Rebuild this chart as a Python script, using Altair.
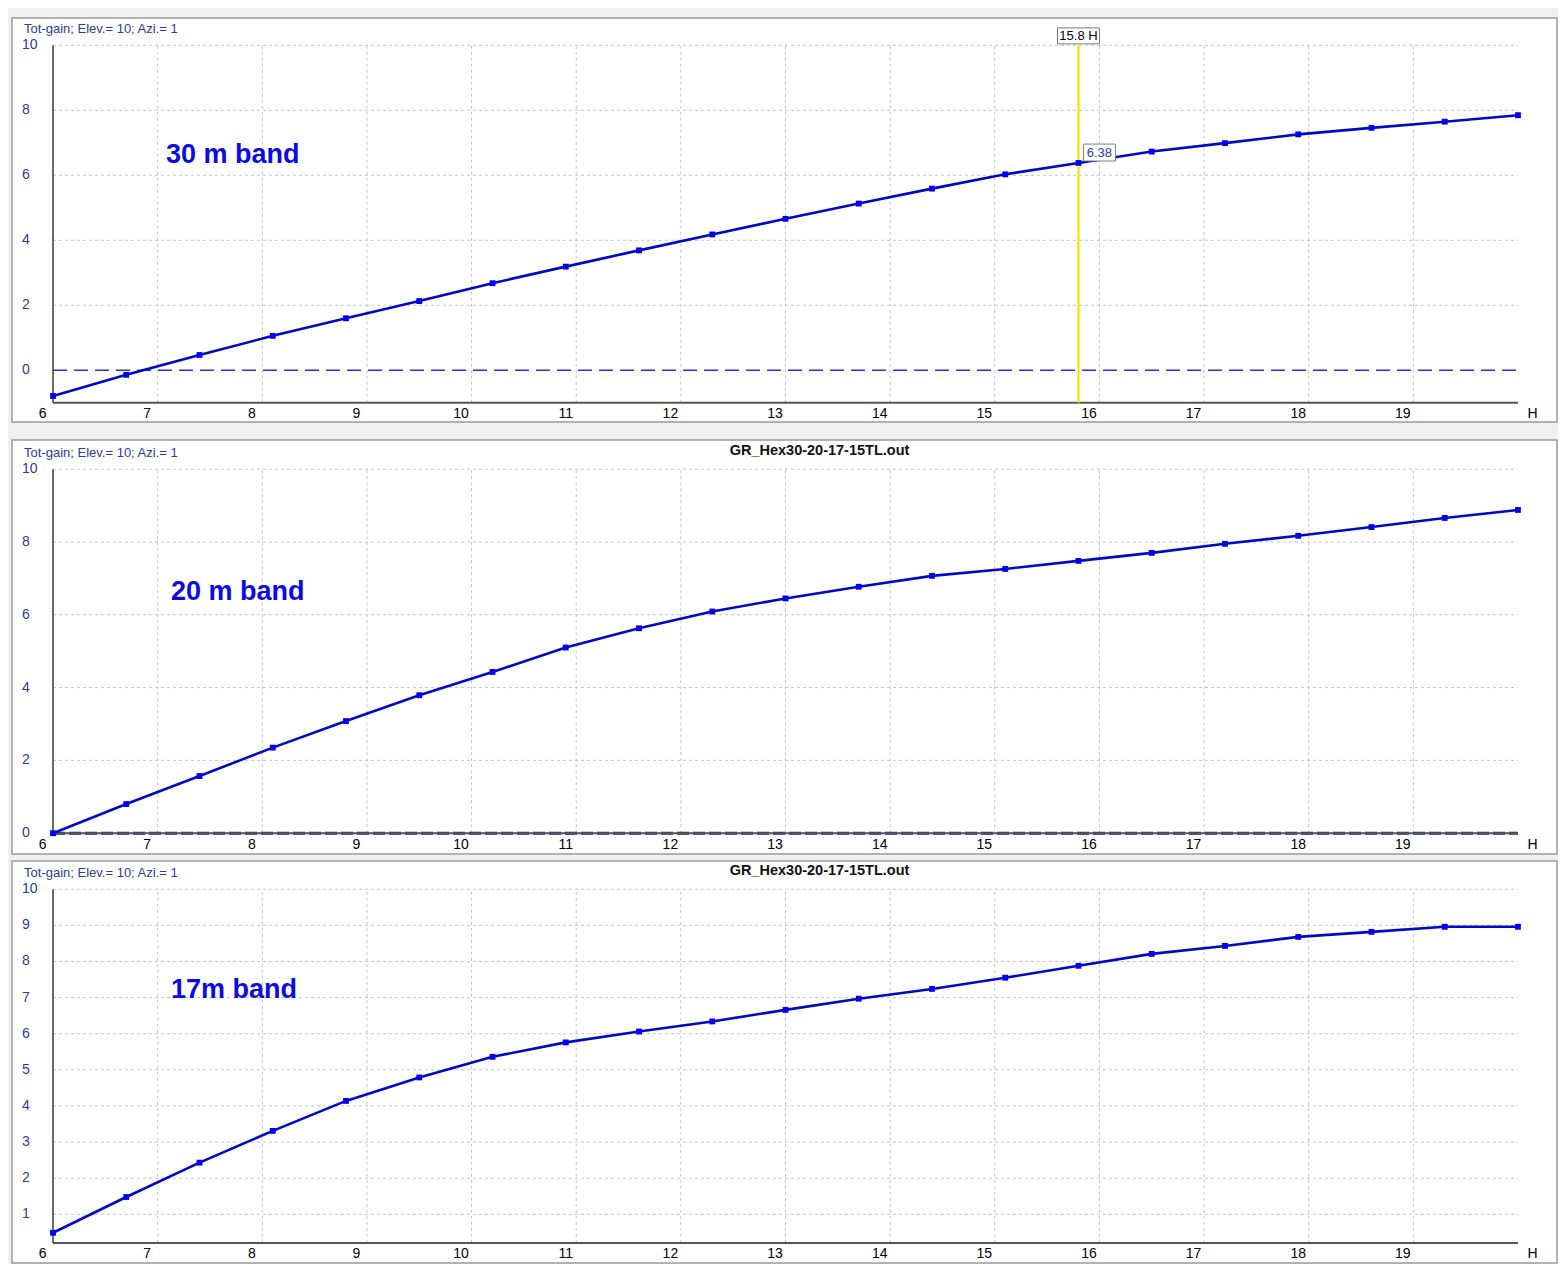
import altair as alt
import pandas as pd

# ---------------- data ----------------
heights = [6.1, 6.8, 7.5, 8.2, 8.9, 9.6, 10.3, 11.0, 11.7, 12.4, 13.1,
           13.8, 14.5, 15.2, 15.9, 16.6, 17.3, 18.0, 18.7, 19.4, 20.1]
gain_30m = [-0.79, -0.14, 0.47, 1.06, 1.60, 2.13, 2.68, 3.19, 3.69, 4.18, 4.66,
            5.13, 5.59, 6.03, 6.38, 6.73, 6.99, 7.26, 7.46, 7.65, 7.85]
gain_20m = [0.00, 0.80, 1.57, 2.35, 3.08, 3.79, 4.43, 5.10, 5.63, 6.09, 6.45,
            6.77, 7.07, 7.26, 7.48, 7.70, 7.95, 8.17, 8.41, 8.66, 8.88]
gain_17m = [0.49, 1.48, 2.43, 3.31, 4.14, 4.79, 5.36, 5.76, 6.06, 6.34, 6.66,
            6.97, 7.24, 7.55, 7.88, 8.21, 8.43, 8.68, 8.82, 8.96, 8.96]

x_labels = [6, 7, 8, 9, 10, 11, 12, 13, 14, 15, 16, 17, 18, 19]
x_grid = [7.1, 8.1, 9.1, 10.1, 11.1, 12.1, 13.1, 14.1, 15.1, 16.1, 17.1, 18.1, 19.1]
yticks_30 = [0, 2, 4, 6, 8, 10]
ygrid_30 = [2, 4, 6, 8, 10]
yticks_20 = [0, 2, 4, 6, 8, 10]
ygrid_20 = [2, 4, 6, 8, 10]
yticks_17 = [1, 2, 3, 4, 5, 6, 7, 8, 9, 10]
ygrid_17 = [1, 2, 3, 4, 5, 6, 7, 8, 9, 10]

panel_title = "Tot-gain; Elev.= 10; Azi.= 1"
file_title = "GR_Hex30-20-17-15TL.out"
band_names = ["30 m band", "20 m band", "17m band"]
cursor_h = 15.9
cursor_text = "15.8 H"
cursor_gain = 6.38
cursor_gain_text = "6.38"

# ---------------- layout constants ----------------
X_START, X_END = 6.1, 20.1
X_DOMAIN = [5.708, 20.473]
WIDTH = 1545
FONT = "Liberation Sans"
BLUE_TXT = "#2a3c9c"

x_scale = alt.Scale(domain=X_DOMAIN, nice=False, zero=False)


def X(f="x"):
    return alt.X(f"{f}:Q", scale=x_scale, axis=None)


def panel(gain, band, yticks, ygrid, axis_min, y_domain, height, band_xy,
          show_file, zero_style, cursor):
    ys = alt.Scale(domain=y_domain, nice=False, zero=False)

    def Y(f="y"):
        return alt.Y(f"{f}:Q", scale=ys, axis=None)

    layers = []
    # vertical grid
    vg = pd.DataFrame({"x": x_grid, "y": [axis_min] * len(x_grid), "y2": [10] * len(x_grid)})
    layers.append(alt.Chart(vg).mark_rule(color="#c4c4c4", strokeDash=[3, 3], strokeWidth=1)
                  .encode(x=X(), y=Y(), y2="y2:Q"))
    # horizontal grid
    hg = pd.DataFrame({"y": ygrid, "x": [X_START] * len(ygrid), "x2": [X_END] * len(ygrid)})
    layers.append(alt.Chart(hg).mark_rule(color="#c4c4c4", strokeDash=[3, 3], strokeWidth=1)
                  .encode(y=Y(), x=X(), x2="x2:Q"))
    # zero line
    if zero_style is not None:
        zl = pd.DataFrame({"y": [0], "x": [X_START], "x2": [X_END]})
        layers.append(alt.Chart(zl).mark_rule(**zero_style).encode(y=Y(), x=X(), x2="x2:Q"))
    # axis lines
    ya = pd.DataFrame({"x": [X_START], "y": [axis_min], "y2": [10]})
    layers.append(alt.Chart(ya).mark_rule(color="#3a3a3a", strokeWidth=1.5)
                  .encode(x=X(), y=Y(), y2="y2:Q"))
    xa = pd.DataFrame({"y": [axis_min], "x": [X_START], "x2": [X_END]})
    layers.append(alt.Chart(xa).mark_rule(color="#555555", strokeWidth=2)
                  .encode(y=Y(), x=X(), x2="x2:Q"))
    # cursor
    if cursor:
        cl = pd.DataFrame({"x": [cursor_h], "y": [axis_min], "y2": [10]})
        layers.append(alt.Chart(cl).mark_rule(color="#f2e600", strokeWidth=2.2)
                      .encode(x=X(), y=Y(), y2="y2:Q"))
    # data line
    df = pd.DataFrame({"x": heights, "y": gain})
    layers.append(alt.Chart(df).mark_line(color="#0008c8", strokeWidth=2.6)
                  .encode(x=X(), y=Y()))
    layers.append(alt.Chart(df).mark_point(shape="square", filled=True, size=34,
                                            color="#0000f0", opacity=1)
                  .encode(x=X(), y=Y()))
    if cursor:
        b1 = pd.DataFrame({"x": [cursor_h], "y": [10.29], "t": [cursor_text]})
        layers.append(alt.Chart(b1).mark_point(shape="M-1,-0.38H1V0.38H-1Z", size=1764,
                                                filled=True, fill="white", stroke="#7a7a7a",
                                                strokeWidth=1, opacity=1)
                      .encode(x=X(), y=Y()))
        layers.append(alt.Chart(b1).mark_text(font=FONT, fontSize=13, color="#000000",
                                               baseline="middle", align="center")
                      .encode(x=X(), y=Y(), text="t:N"))
        b2 = pd.DataFrame({"x": [16.10], "y": [6.70], "t": [cursor_gain_text]})
        layers.append(alt.Chart(b2).mark_point(shape="M-1,-0.53H1V0.53H-1Z", size=1024,
                                                filled=True, fill="white", stroke="#7a7a7a",
                                                strokeWidth=1, opacity=1)
                      .encode(x=X(), y=Y()))
        layers.append(alt.Chart(b2).mark_text(font=FONT, fontSize=13, color=BLUE_TXT,
                                               baseline="middle", align="center")
                      .encode(x=X(), y=Y(), text="t:N"))
    # y tick labels
    yl = pd.DataFrame({"y": yticks, "x": [5.804] * len(yticks), "t": [str(v) for v in yticks]})
    layers.append(alt.Chart(yl).mark_text(font=FONT, fontSize=14, color=BLUE_TXT,
                                           align="left", baseline="middle")
                  .encode(x=X(), y=Y(), text="t:N"))
    # x tick labels
    xl = pd.DataFrame({"x": x_labels + [20.24], "y": [axis_min] * (len(x_labels) + 1),
                       "t": [str(v) for v in x_labels] + ["H"]})
    layers.append(alt.Chart(xl).mark_text(font=FONT, fontSize=14, color="#000000",
                                           align="center", baseline="middle", dy=11.5)
                  .encode(x=X(), y=Y(), text="t:N"))
    # panel title
    pt = pd.DataFrame({"x": [5.823], "y": [10], "t": [panel_title]})
    layers.append(alt.Chart(pt).mark_text(font=FONT, fontSize=13, color=BLUE_TXT,
                                           align="left", baseline="middle", dy=-16.5)
                  .encode(x=X(), y=Y(), text="t:N"))
    if show_file:
        ft = pd.DataFrame({"x": [13.425], "y": [10], "t": [file_title]})
        layers.append(alt.Chart(ft).mark_text(font=FONT, fontSize=14.5, fontWeight="bold",
                                               color="#111111", align="center",
                                               baseline="middle", dy=-18)
                      .encode(x=X(), y=Y(), text="t:N"))
    # band label
    bl = pd.DataFrame({"x": [band_xy[0]], "y": [band_xy[1]], "t": [band]})
    layers.append(alt.Chart(bl).mark_text(font=FONT, fontSize=27, fontWeight="bold",
                                           color="#0a0ae6", align="left",
                                           baseline="alphabetic")
                  .encode(x=X(), y=Y(), text="t:N"))

    return alt.layer(*layers).properties(width=WIDTH, height=height)


p1 = panel(gain_30m, band_names[0], yticks_30, ygrid_30, -1.0, [-1.591, 10.84], 404,
           (7.18, 6.38), False,
           dict(color="#2233dd", strokeWidth=1.4, strokeDash=[14, 7]), True)
p2 = panel(gain_20m, band_names[1], yticks_20, ygrid_20, 0.0, [-0.572, 10.802], 414,
           (7.228, 6.41), True,
           dict(color="#151a80", strokeWidth=3, strokeDash=[12, 4]), False)
p3 = panel(gain_17m, band_names[2], yticks_17, ygrid_17, 0.21, [-0.347, 10.781], 402,
           (7.228, 6.99), True, None, False)

lower = alt.vconcat(p2, p3, spacing=7, bounds="flush")
chart = alt.vconcat(p1, lower, spacing=18, bounds="flush").properties(
    background="#f0f0f0",
    padding={"left": 3, "top": 9, "right": 0, "bottom": 0},
).configure_view(fill="white", stroke="#9a9a9a", strokeWidth=1.5)

chart.save("out.html", embed_options={"renderer": "svg", "actions": False})
